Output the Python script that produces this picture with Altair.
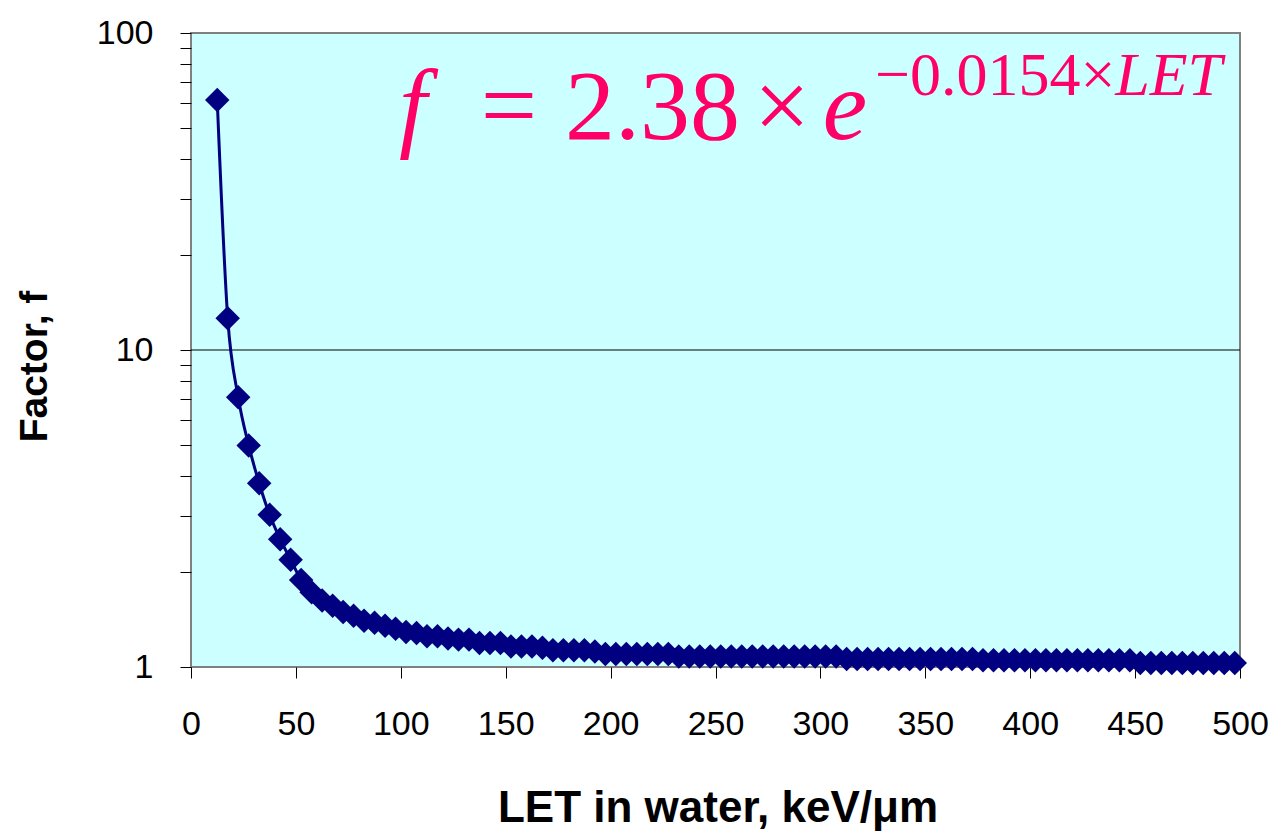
import altair as alt
import pandas as pd

# LET in water (keV/um)
let_values = [
    12.5, 17.5, 22.5, 27.5, 32.5, 37.5, 42.5, 47.5, 52.5, 57.5,
    62.5, 67.5, 72.5, 77.5, 82.5, 87.5, 92.5, 97.5, 102.5, 107.5,
    112.5, 117.5, 122.5, 127.5, 132.5, 137.5, 142.5, 147.5, 152.5, 157.5,
    162.5, 167.5, 172.5, 177.5, 182.5, 187.5, 192.5, 197.5, 202.5, 207.5,
    212.5, 217.5, 222.5, 227.5, 232.5, 237.5, 242.5, 247.5, 252.5, 257.5,
    262.5, 267.5, 272.5, 277.5, 282.5, 287.5, 292.5, 297.5, 302.5, 307.5,
    312.5, 317.5, 322.5, 327.5, 332.5, 337.5, 342.5, 347.5, 352.5, 357.5,
    362.5, 367.5, 372.5, 377.5, 382.5, 387.5, 392.5, 397.5, 402.5, 407.5,
    412.5, 417.5, 422.5, 427.5, 432.5, 437.5, 442.5, 447.5, 452.5, 457.5,
    462.5, 467.5, 472.5, 477.5, 482.5, 487.5, 492.5, 497.5,
]
# Factor f
factor_values = [
    61.5, 12.6, 7.1, 5.0, 3.8, 3.02, 2.53, 2.18, 1.88, 1.72,
    1.62, 1.56, 1.49, 1.45, 1.40, 1.38, 1.35, 1.32, 1.29, 1.28,
    1.25, 1.25, 1.23, 1.22, 1.22, 1.19, 1.19, 1.19, 1.16, 1.16,
    1.16, 1.15, 1.13, 1.13, 1.13, 1.13, 1.12, 1.10, 1.10, 1.10,
    1.10, 1.10, 1.10, 1.10, 1.08, 1.08, 1.08, 1.08, 1.08, 1.08,
    1.08, 1.08, 1.08, 1.08, 1.08, 1.08, 1.08, 1.08, 1.08, 1.08,
    1.06, 1.06, 1.06, 1.06, 1.06, 1.06, 1.06, 1.06, 1.06, 1.06,
    1.06, 1.06, 1.06, 1.05, 1.05, 1.05, 1.05, 1.05, 1.05, 1.05,
    1.05, 1.05, 1.05, 1.05, 1.05, 1.05, 1.05, 1.05, 1.03, 1.03,
    1.03, 1.03, 1.03, 1.03, 1.03, 1.03, 1.03, 1.03,
]

x_ticks = [0, 50, 100, 150, 200, 250, 300, 350, 400, 450, 500]
y_ticks = [1, 2, 3, 4, 5, 6, 7, 8, 9, 10, 20, 30, 40, 50, 60, 70, 80, 90, 100]

df = pd.DataFrame({"LET": let_values, "f": factor_values})

NAVY = "#000080"
PINK = "#FF0066"
W, H = 1049, 634

x_enc = alt.X(
    "LET:Q",
    scale=alt.Scale(domain=[0, 500], nice=False),
    axis=alt.Axis(
        values=x_ticks, title="LET in water, keV/\u03bcm", grid=False,
        domain=False, tickColor="black", tickSize=11, tickWidth=1,
        labelFontSize=34, labelFont="Liberation Sans", labelColor="black",
        labelPadding=29, labelFlush=False,
        titleFont="Liberation Sans", titleFontSize=44, titleFontWeight="bold",
        titleColor="black", titleX=W / 2 + 2, titleY=154,
        titleBaseline="alphabetic", titleAlign="center",
    ),
)
y_enc = alt.Y(
    "f:Q",
    scale=alt.Scale(type="log", domain=[1, 100], nice=False),
    axis=alt.Axis(
        values=y_ticks,
        labelExpr="(datum.value == 1 || datum.value == 10 || datum.value == 100) ? datum.label : ''",
        title="Factor, f", grid=False, domain=False,
        tickColor="black", tickSize=11, tickWidth=1,
        labelFontSize=34, labelFont="Liberation Sans", labelColor="black",
        labelPadding=27, labelFlush=False,
        titleFont="Liberation Sans", titleFontSize=39, titleFontWeight="bold",
        titleColor="black", titleX=-157, titleY=333, titleAngle=270,
        titleBaseline="middle", titleAlign="center",
    ),
)

base = alt.Chart(df)

grid10 = alt.Chart(pd.DataFrame({"g": [10]})).mark_rule(
    color="#000000", strokeWidth=1, opacity=1
).encode(y=alt.Y("g:Q", scale=alt.Scale(type="log", domain=[1, 100], nice=False)))

line = base.mark_line(color=NAVY, strokeWidth=3, interpolate="monotone").encode(
    x=x_enc, y=y_enc
)
pts = base.mark_point(
    shape="diamond", filled=True, color=NAVY, size=600, opacity=1
).encode(x="LET:Q", y="f:Q")

def txt(s, x, y, size, italic=False, align="left"):
    return alt.Chart(pd.DataFrame({"t": [s]})).mark_text(
        font="Liberation Serif", fontSize=size, color=PINK,
        fontStyle="italic" if italic else "normal",
        align=align, baseline="alphabetic",
    ).encode(text="t:N", x=alt.value(x), y=alt.value(y))

formula = [
    txt("f", 222, 106, 100, italic=True, align="center"),
    txt("=", 318, 106, 100, align="center"),
    txt("2.38", 374, 106, 100),
    txt("\u00d7", 591, 106, 100, align="center"),
    txt("e", 654, 106, 100, italic=True, align="center"),
    txt("\u22120.0154\u00d7", 684, 62, 62),
    txt("LET", 1031, 62, 62, italic=True, align="right"),
]

chart = alt.layer(grid10, line, pts, *formula).properties(
    width=W, height=H,
    autosize=alt.AutoSizeParams(type="none"),
    padding={"left": 183, "top": 25, "right": 34, "bottom": 166},
    background="white",
).configure_view(
    fill="#CCFFFF", stroke="#808080", strokeWidth=2
)

chart.save("out.html", embed_options={"renderer": "svg", "actions": False})
